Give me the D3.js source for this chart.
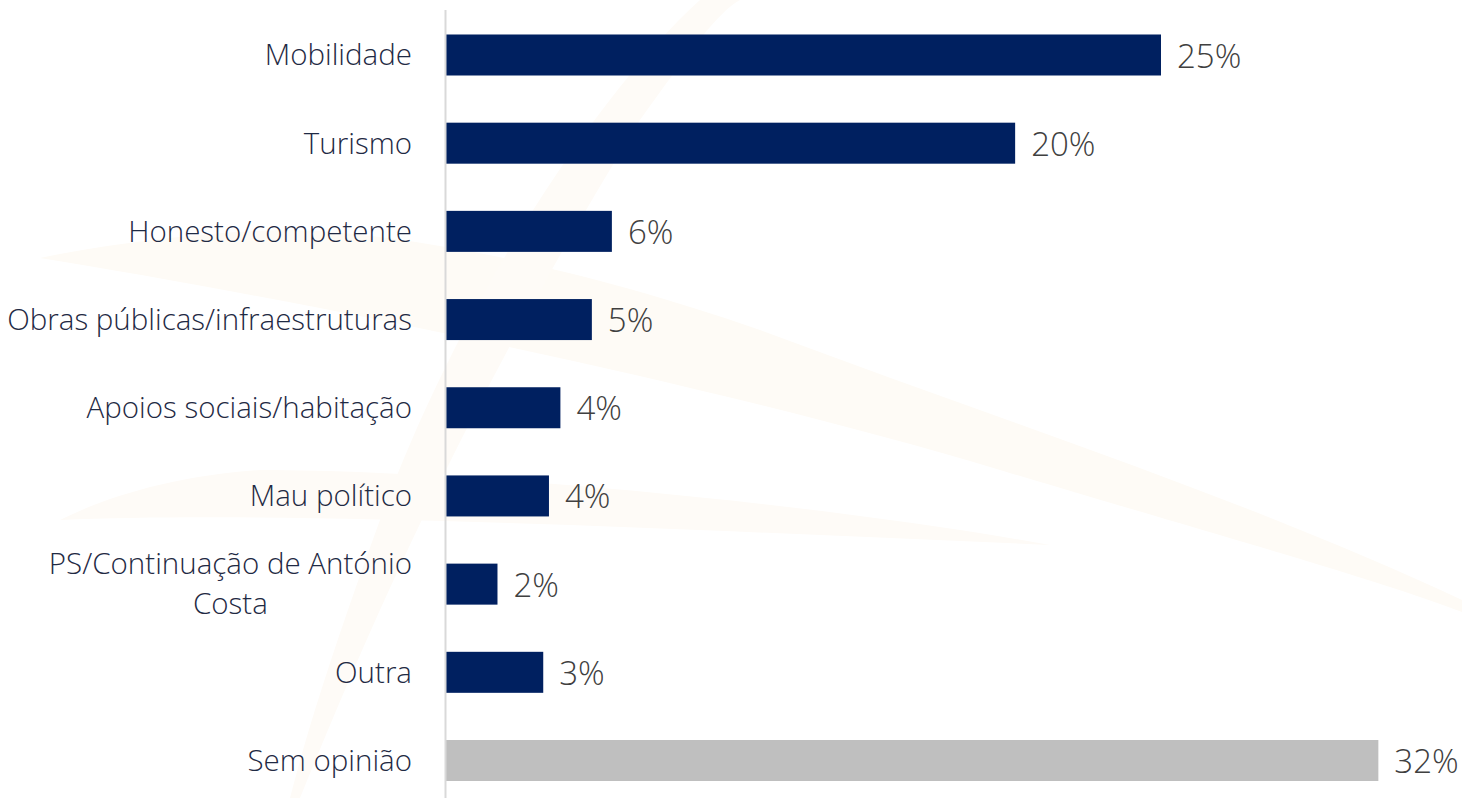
<!DOCTYPE html>
<html>
<head>
<meta charset="utf-8">
<script src="https://cdn.jsdelivr.net/npm/d3@7"></script>
<style>
  html, body { margin: 0; padding: 0; background: #fff; }
  svg { display: block; }
</style>
</head>
<body>
<svg id="chart" width="1462" height="798"></svg>
<script>
let categories = ["Mobilidade", "Turismo", "Honesto/competente", "Obras públicas/infraestruturas",
    "Apoios sociais/habitação", "Mau político", "PS/Continuação de António\nCosta", "Outra", "Sem opinião"];
let values = [25.0, 19.9, 5.8, 5.1, 4.0, 3.6, 1.8, 3.4, 32.6];
let valueLabels = ["25%", "20%", "6%", "5%", "4%", "4%", "2%", "3%", "32%"];
let barColors = ["#002060", "#002060", "#002060", "#002060", "#002060", "#002060", "#002060", "#002060", "#bfbfbf"];

let width = 1462;
let height = 798;
let axisX = 446;
let fontFamily = "'Open Sans', 'Noto Sans', sans-serif";

let svg = d3.select("#chart");

// very faint watermark swooshes in the background
let wm = svg.append("g");
wm.append("path")
    .attr("d", "M40,258 C300,300 700,380 1000,470 C1200,530 1380,580 1462,612 L1462,600 C1250,500 1000,420 760,330 C560,260 380,230 280,230 C200,232 100,245 40,258 Z")
    .attr("fill", "#fefbf6");
wm.append("path")
    .attr("d", "M60,520 C300,510 700,530 1050,545 C800,500 450,470 260,470 C180,475 110,495 60,520 Z")
    .attr("fill", "#fefbf7");
wm.append("path")
    .attr("d", "M300,798 C380,600 480,380 640,120 C690,50 720,10 740,0 L700,0 C600,90 460,300 380,520 C340,630 310,720 290,798 Z")
    .attr("fill", "#fefbf7");

let x = d3.scaleLinear()
    .domain([0, 35])
    .range([axisX, axisX + 35 * 28.6]);

let y = d3.scaleBand()
    .domain(categories)
    .range([10.9, 804.6])
    .paddingInner(0.535)
    .paddingOuter(0.2675);

svg.selectAll(".bar")
    .data(categories)
    .enter()
    .append("rect")
    .attr("class", "bar")
    .attr("x", x(0))
    .attr("y", d => y(d))
    .attr("width", (d, i) => x(values[i]) - x(0))
    .attr("height", y.bandwidth())
    .attr("fill", (d, i) => barColors[i]);

// vertical axis line
svg.append("line")
    .attr("x1", axisX - 0.5)
    .attr("x2", axisX - 0.5)
    .attr("y1", 10)
    .attr("y2", height)
    .style("stroke", "#d9d9d9")
    .style("stroke-width", 2);

// category labels
let catLabels = svg.selectAll(".cat")
    .data(categories)
    .enter()
    .append("text")
    .attr("class", "cat")
    .attr("text-anchor", "middle")
    .style("font-family", fontFamily)
    .style("font-weight", 300)
    .style("font-size", "29.5px")
    .style("fill", "#1f2a44");

catLabels.each(function(d) {
    let lines = d.split("\n");
    let el = d3.select(this);
    let cy = y(d) + y.bandwidth() / 2;
    lines.forEach((line, j) => {
        el.append("tspan")
            .attr("x", 0)
            .attr("y", cy + (j - (lines.length - 1) / 2) * 40)
            .attr("dy", "0.35em")
            .text(line);
    });
});

// right-align each label block, centering multi-line text inside it
catLabels.each(function() {
    let el = d3.select(this);
    let bbox = this.getBBox();
    let cx = axisX - 34 - bbox.width / 2;
    el.selectAll("tspan").attr("x", cx);
});

// value labels
svg.selectAll(".val")
    .data(categories)
    .enter()
    .append("text")
    .attr("class", "val")
    .attr("x", (d, i) => x(values[i]) + 16)
    .attr("y", d => y(d) + y.bandwidth() / 2)
    .attr("dy", "0.38em")
    .style("font-family", fontFamily)
    .style("font-weight", 300)
    .style("font-size", "33px")
    .style("fill", "#404040")
    .text((d, i) => valueLabels[i]);
</script>
</body>
</html>
